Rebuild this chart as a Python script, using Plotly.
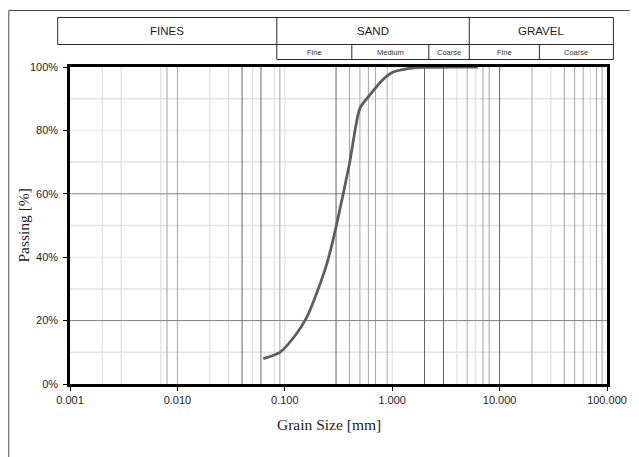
import plotly.graph_objects as go

# ---- grain size distribution (sieve sizes in mm, cumulative % passing) ----
grain_size_mm = [0.063, 0.09, 0.125, 0.16, 0.2, 0.25, 0.3, 0.4, 0.5, 0.63, 0.8, 1.0, 1.4, 2.0, 4.0, 6.3]
passing_pct = [8.0, 10.0, 15.3, 21.0, 29.0, 38.7, 49.5, 69.5, 87.0, 91.5, 95.7, 98.3, 99.5, 99.9, 100.0, 100.0]

# ---- axis ticks ----
x_tick_vals = [0.001, 0.01, 0.1, 1, 10, 100]
x_tick_text = ["0.001", "0.010", "0.100", "1.000", "10.000", "100.000"]
y_tick_vals = [0, 20, 40, 60, 80, 100]
y_tick_text = ["0%", "20%", "40%", "60%", "80%", "100%"]

# ---- vertical reference lines (sieve sizes, mm), grouped by shade ----
vlines_strong = [0.04, 0.06, 0.3, 2, 3, 10]
vlines_medium = [0.008, 0.01, 0.09, 0.4, 0.6, 0.7, 7, 8, 40, 50, 60, 80, 90]
vlines_light = [0.5, 0.9, 5, 20]
vlines_faint = [0.002, 0.003, 0.007, 0.02, 0.03, 0.05, 0.08, 0.1, 1.0, 4, 6, 30, 70]

# ---- horizontal reference lines (% passing), grouped by shade ----
hlines_strong = [20, 60]
hlines_light = [10, 30, 50, 70, 90]
hlines_faint = [40, 80]

# ---- soil classification header ----
main_classes = ["FINES", "SAND", "GRAVEL"]
sub_classes = ["Fine", "Medium", "Coarse", "Fine", "Coarse"]

# ---- page geometry (pixels) ----
W, H = 639, 457
PL, PR, PT, PB = 70, 614, 67, 384

def fx(p):
    return (p - PL) / (PR - PL)

def fy(p):
    return (PB - p) / (PB - PT)

fig = go.Figure()

def add_vlines(vals, color, width):
    xs, ys = [], []
    for v in vals:
        xs += [v, v, None]
        ys += [0, 100, None]
    fig.add_trace(go.Scatter(x=xs, y=ys, mode="lines", hoverinfo="skip",
                             line=dict(color=color, width=width)))

def add_hlines(vals, color, width):
    xs, ys = [], []
    for v in vals:
        xs += [x_tick_vals[0], x_tick_vals[-1], None]
        ys += [v, v, None]
    fig.add_trace(go.Scatter(x=xs, y=ys, mode="lines", hoverinfo="skip",
                             line=dict(color=color, width=width)))

add_hlines(hlines_faint, "#f0f0f0", 1.5)
add_hlines(hlines_light, "#e2e2e2", 1.5)
add_vlines(vlines_faint, "#e0e0e0", 1.2)
add_vlines(vlines_light, "#c6c6c6", 1.5)
add_vlines(vlines_medium, "#a4a4a4", 1)
add_hlines(hlines_strong, "#828282", 1)
add_vlines(vlines_strong, "#666666", 1)

# gradation curve, drawn over the frame where it runs along 100 %
fig.add_trace(go.Scatter(
    x=grain_size_mm, y=passing_pct, mode="lines",
    line=dict(color="#5e5e5e", width=2.8, shape="spline", smoothing=0.6),
    cliponaxis=False, hoverinfo="x+y",
))

# ---- header table lines ----
line_style = dict(color="#2a2a2a", width=1)
tbl_l, tbl_r = 57.5, 620.5
row_t, row_m, row_b = 17.5, 44.5, 59.5
div_major = [279.5, 474.5]
div_minor = [355.5, 433.5, 545.5]

shapes = []

def seg(x0, y0, x1, y1, style):
    shapes.append(dict(type="line", xref="paper", yref="paper",
                       x0=fx(x0), y0=fy(y0), x1=fx(x1), y1=fy(y1), line=style))

# outer chart frame
seg(8, 10.5, 637, 10.5, dict(color="#4a4a4a", width=1))
seg(8, 10.5, 8, 460, dict(color="#4a4a4a", width=1))

# top row
seg(tbl_l, row_t, tbl_r, row_t, line_style)
seg(tbl_l, row_m, tbl_r, row_m, line_style)
seg(tbl_l, row_t, tbl_l, row_m, line_style)
seg(tbl_r, row_t, tbl_r, row_b, line_style)
# sub row
seg(div_major[0], row_b, tbl_r, row_b, line_style)
for d in div_major:
    seg(d, row_t, d, row_b, line_style)
for d in div_minor:
    seg(d, row_m, d, row_b, line_style)

annotations = []
main_edges = [tbl_l] + div_major + [tbl_r]
for i, name in enumerate(main_classes):
    cx = (main_edges[i] + main_edges[i + 1]) / 2
    annotations.append(dict(text=name, xref="paper", yref="paper",
                            x=fx(cx), y=fy((row_t + row_m) / 2),
                            showarrow=False, xanchor="center", yanchor="middle",
                            font=dict(family="Liberation Sans", size=11.5, color="#1e1e1e")))

sub_edges = [div_major[0], div_minor[0], div_minor[1], div_major[1], div_minor[2], tbl_r]
for i, name in enumerate(sub_classes):
    cx = (sub_edges[i] + sub_edges[i + 1]) / 2
    annotations.append(dict(text=name, xref="paper", yref="paper",
                            x=fx(cx), y=fy((row_m + row_b) / 2),
                            showarrow=False, xanchor="center", yanchor="middle",
                            font=dict(family="Liberation Sans", size=7.5, color="#333333")))

# axis titles
annotations.append(dict(text="Grain Size [mm]", xref="paper", yref="paper",
                        x=fx(332), y=fy(424), showarrow=False,
                        xanchor="center", yanchor="middle",
                        font=dict(family="Liberation Serif", size=15.5, color="#222")))
annotations.append(dict(text="Passing [%]", xref="paper", yref="paper",
                        x=fx(22), y=fy(226), showarrow=False, textangle=-90,
                        xanchor="center", yanchor="middle",
                        font=dict(family="Liberation Serif", size=15.5, color="#222")))

tick_font = dict(family="Liberation Sans", size=11, color="#1e1e1e")

fig.update_layout(
    width=W, height=H,
    margin=dict(l=PL, r=W - PR, t=PT, b=H - PB, pad=0),
    paper_bgcolor="white", plot_bgcolor="white",
    showlegend=False,
    shapes=shapes, annotations=annotations,
    xaxis=dict(type="log", range=[-3, 2], tickvals=x_tick_vals, ticktext=x_tick_text,
               showgrid=False, zeroline=False, showline=True, linewidth=2.5,
               linecolor="black", mirror=True, ticks="outside", ticklen=4,
               tickwidth=1, tickcolor="black", tickfont=tick_font,
               layer="below traces"),
    yaxis=dict(range=[0, 100], tickvals=y_tick_vals, ticktext=y_tick_text,
               showgrid=False, zeroline=False, showline=True, linewidth=2.5,
               linecolor="black", mirror=True, ticks="outside", ticklen=4,
               tickwidth=1, tickcolor="black", tickfont=tick_font,
               ticklabelstandoff=3, layer="below traces"),
)

fig.write_html("out.html")
